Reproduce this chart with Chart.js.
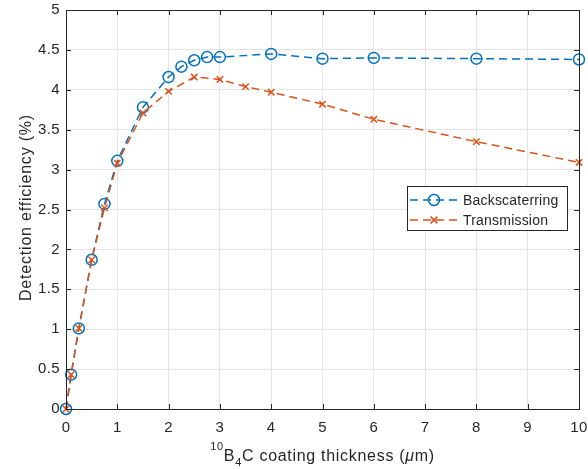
<!DOCTYPE html>
<html lang="en">
<head>
<meta charset="UTF-8">
<title>Detection efficiency vs coating thickness</title>
<style>
    body { margin: 0; padding: 0; background: #fff; }
    #wrap { width: 588px; height: 469px; }
</style>
<script src="https://cdn.jsdelivr.net/npm/chart.js"></script>
</head>
<body>
<div id="wrap"><canvas id="grafico" width="588" height="469"></canvas></div>
<script>
// datos
const backX = [0, 0.1, 0.25, 0.5, 0.75, 1, 1.5, 2, 2.25, 2.5, 2.75, 3, 4, 5, 6, 8, 10];
const backY = [0, 0.43, 1.01, 1.87, 2.57, 3.11, 3.78, 4.16, 4.29, 4.37, 4.41, 4.41, 4.45, 4.39, 4.40, 4.39, 4.38];
const transX = [0, 0.1, 0.25, 0.5, 0.75, 1, 1.5, 2, 2.5, 3, 3.5, 4, 5, 6, 8, 10];
const transY = [0, 0.43, 1.01, 1.87, 2.52, 3.08, 3.71, 3.98, 4.16, 4.13, 4.04, 3.97, 3.82, 3.63, 3.35, 3.09];
const xTicks = [0, 1, 2, 3, 4, 5, 6, 7, 8, 9, 10];
const yTicks = [0, 0.5, 1, 1.5, 2, 2.5, 3, 3.5, 4, 4.5, 5];
const seriesNames = ['Backscaterring', 'Transmission'];
const yTitle = 'Detection efficiency (%)';

const FONT = "'Liberation Sans', Arial, Helvetica, sans-serif";
const TXT = '#262626';

function pares(xs, ys) {
    return xs.map((v, i) => ({ x: v, y: ys[i] }));
}

function marcador(ctx, estilo, cx, cy, r) {
    ctx.beginPath();
    if (estilo === 'circle') {
        ctx.arc(cx, cy, r, 0, Math.PI * 2);
    } else {
        ctx.moveTo(cx - r * 0.75, cy - r * 0.75); ctx.lineTo(cx + r * 0.75, cy + r * 0.75);
        ctx.moveTo(cx - r * 0.75, cy + r * 0.75); ctx.lineTo(cx + r * 0.75, cy - r * 0.75);
    }
    ctx.stroke();
}

// caja, ticks hacia dentro, leyenda y titulos de ejes al estilo MATLAB
const marco = {
    id: 'marco',
    beforeDraw(chart) {
        chart.ctx.letterSpacing = '0.4px';
    },
    afterDraw(chart) {
        const { ctx, chartArea: a, scales: { x, y } } = chart;
        ctx.save();
        ctx.strokeStyle = TXT;
        ctx.lineWidth = 1;
        ctx.setLineDash([]);
        ctx.beginPath();
        xTicks.forEach(v => {
            const px = Math.round(x.getPixelForValue(v)) + 0.5;
            ctx.moveTo(px, a.bottom); ctx.lineTo(px, a.bottom - 5);
            ctx.moveTo(px, a.top); ctx.lineTo(px, a.top + 5);
        });
        yTicks.forEach(v => {
            const py = Math.round(y.getPixelForValue(v)) + 0.5;
            ctx.moveTo(a.left, py); ctx.lineTo(a.left + 5, py);
            ctx.moveTo(a.right, py); ctx.lineTo(a.right - 5, py);
        });
        ctx.stroke();
        ctx.strokeRect(Math.round(a.left) + 0.5, Math.round(a.top) + 0.5,
            Math.round(a.right - a.left), Math.round(a.bottom - a.top));

        // leyenda
        const lx = a.right - 172, ly = a.top + 176, lw = 160, lh = 44;
        ctx.fillStyle = '#fff';
        ctx.fillRect(lx, ly, lw, lh);
        ctx.strokeRect(lx + 0.5, ly + 0.5, lw, lh);
        ctx.letterSpacing = '0.2px';
        chart.data.datasets.forEach((ds, i) => {
            const yy = ly + 14 + i * 20;
            ctx.strokeStyle = ds.borderColor;
            ctx.lineWidth = 1.5;
            ctx.setLineDash(ds.borderDash);
            ctx.beginPath();
            ctx.moveTo(lx + 3, yy); ctx.lineTo(lx + 51, yy);
            ctx.stroke();
            ctx.setLineDash([]);
            marcador(ctx, ds.pointStyle, lx + 27, yy, ds.pointRadius);
            ctx.fillStyle = TXT;
            ctx.font = '14px ' + FONT;
            ctx.textAlign = 'left';
            ctx.textBaseline = 'middle';
            ctx.fillText(ds.label, lx + 56, yy + 1);
        });

        // titulo eje y
        ctx.save();
        ctx.letterSpacing = '0.8px';
        ctx.translate(27, (a.top + a.bottom) / 2 - 2);
        ctx.rotate(-Math.PI / 2);
        ctx.fillStyle = TXT;
        ctx.font = '16px ' + FONT;
        ctx.textAlign = 'center';
        ctx.textBaseline = 'middle';
        ctx.fillText(yTitle, 0, 0);
        ctx.restore();

        // titulo eje x con superindice y subindice
        ctx.letterSpacing = '0.7px';
        const partes = [
            { t: '10', f: '11px ' + FONT, dy: -11 },
            { t: 'B', f: '16px ' + FONT, dy: 0 },
            { t: '4', f: '11px ' + FONT, dy: 5 },
            { t: 'C coating thickness (', f: '16px ' + FONT, dy: 0 },
            { t: 'μ', f: 'italic 16px ' + FONT, dy: 0 },
            { t: 'm)', f: '16px ' + FONT, dy: 0 }
        ];
        let total = 0;
        partes.forEach(p => { ctx.font = p.f; p.w = ctx.measureText(p.t).width; total += p.w; });
        let cx = (a.left + a.right) / 2 - total / 2;
        const base = a.bottom + 52;
        ctx.fillStyle = TXT;
        ctx.textAlign = 'left';
        ctx.textBaseline = 'alphabetic';
        partes.forEach(p => {
            ctx.font = p.f;
            ctx.fillText(p.t, cx, base + p.dy);
            cx += p.w;
        });
        ctx.restore();
    }
};

const ctx = document.getElementById('grafico').getContext('2d');
const chart = new Chart(ctx, {
    type: 'line',
    data: {
        datasets: [{
            label: seriesNames[0],
            data: pares(backX, backY),
            borderColor: '#0072BD',
            borderWidth: 1.5,
            borderDash: [8, 5],
            pointStyle: 'circle',
            pointRadius: 5.5,
            pointBorderWidth: 1.5,
            pointBorderColor: '#0072BD',
            pointBackgroundColor: 'rgba(0,0,0,0)',
            fill: false,
            tension: 0,
            clip: false,
            order: 1
        }, {
            label: seriesNames[1],
            data: pares(transX, transY),
            borderColor: '#D95319',
            borderWidth: 1.5,
            borderDash: [8, 5],
            pointStyle: 'crossRot',
            pointRadius: 4.5,
            pointBorderWidth: 1.5,
            pointBorderColor: '#D95319',
            pointBackgroundColor: '#D95319',
            fill: false,
            tension: 0,
            clip: false,
            order: 0
        }]
    },
    options: {
        responsive: false,
        animation: false,
        devicePixelRatio: 1,
        layout: { padding: { top: 10, right: 9, left: 0, bottom: 0 } },
        plugins: { legend: { display: false }, tooltip: { enabled: false } },
        scales: {
            x: {
                type: 'linear',
                min: 0, max: 10,
                afterBuildTicks: s => { s.ticks = xTicks.map(v => ({ value: v })); },
                afterFit: s => { s.height = 60; s.paddingLeft = 0; s.paddingRight = 0; },
                grid: { color: '#e4e4e4', drawTicks: false },
                border: { display: false },
                ticks: { color: TXT, font: { family: FONT, size: 15 }, padding: 10, maxRotation: 0 }
            },
            y: {
                min: 0, max: 5,
                afterBuildTicks: s => { s.ticks = yTicks.map(v => ({ value: v })); },
                afterFit: s => { s.width = 66; s.paddingTop = 0; s.paddingBottom = 0; },
                grid: { color: '#e4e4e4', drawTicks: false },
                border: { display: false },
                ticks: { color: TXT, font: { family: FONT, size: 15 }, padding: 6, callback: v => String(v) }
            }
        }
    },
    plugins: [marco]
});
</script>
</body>
</html>
